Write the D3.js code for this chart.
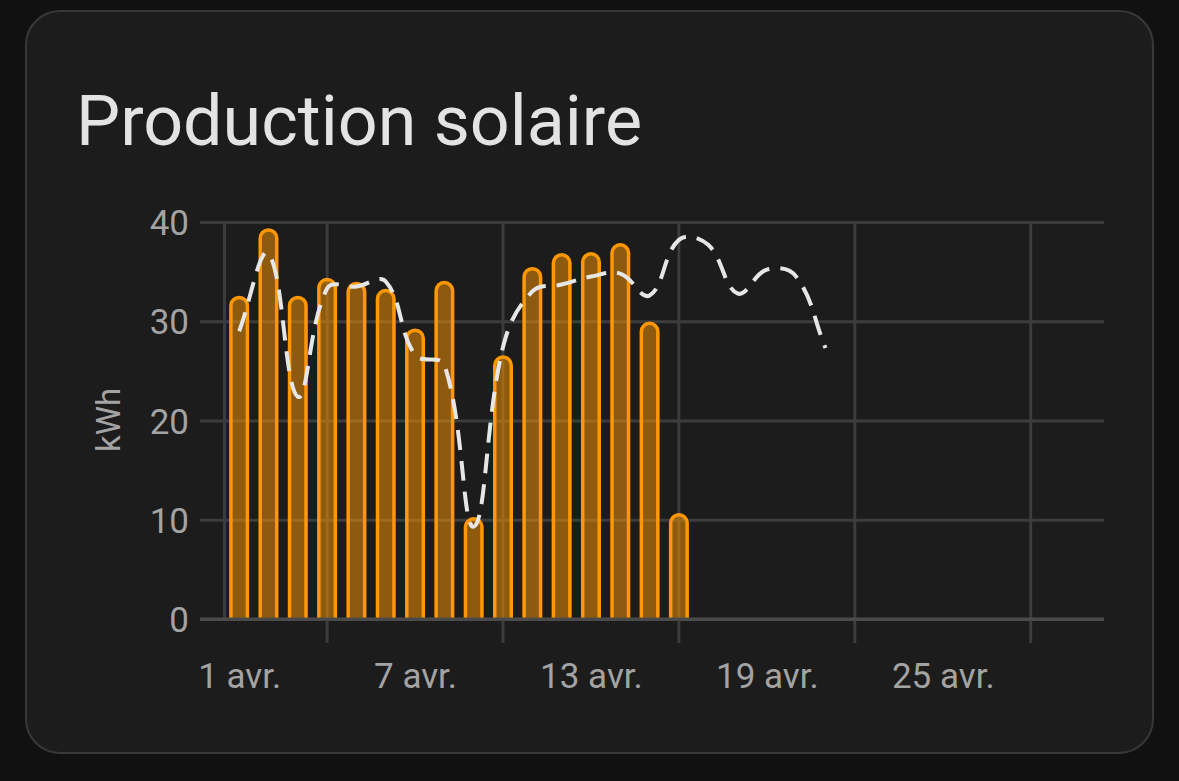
<!DOCTYPE html>
<html><head><meta charset="utf-8">
<script src="https://cdn.jsdelivr.net/npm/d3@7/dist/d3.min.js"></script>
<style>
html,body{margin:0;padding:0;background:#111111;}
svg{display:block;font-family:Roboto,"Noto Sans",sans-serif;}
</style></head><body>
<svg id="c" width="1179" height="781"></svg>
<script>
// ---- data ----
const title = "Production solaire";
const yLabel = "kWh";
const days = d3.range(1, 31);                       // 1..30 avril
const prodDays = d3.range(1, 17);                   // days with production
const production = [32.4, 39.2, 32.4, 34.2, 33.8, 33.1, 29.1, 33.9, 10.1, 26.4, 35.3, 36.7, 36.8, 37.7, 29.8, 10.5];
const forecastDays = d3.range(1, 22);
const forecast = [29.0, 36.8, 22.4, 33.3, 33.5, 34.0, 26.6, 25.6, 9.3, 27.4, 33.0, 33.7, 34.5, 34.8, 32.6, 38.2, 37.7, 32.8, 35.2, 34.5, 27.3];
const yTicks = [0, 10, 20, 30, 40];
const xLabelDays = [1, 7, 13, 19, 25];
const xLabels = ["1 avr.", "7 avr.", "13 avr.", "19 avr.", "25 avr."];
const xGridDays = [4, 10, 16, 22, 28];

// ---- layout ----
const svg = d3.select("#c");
const W = 1179, H = 781;
const plot = {left: 224.5, right: 1104, top: 222, bottom: 619};

svg.append("rect").attr("width", W).attr("height", H).attr("fill", "#111111");
svg.append("rect").attr("x", 26).attr("y", 11).attr("width", 1127).attr("height", 742)
  .attr("rx", 34).attr("fill", "#1c1c1c").attr("stroke", "#383838").attr("stroke-width", 2);

svg.append("text").attr("x", 76).attr("y", 145).text(title)
  .attr("fill", "#e3e3e3").attr("font-size", 70).attr("font-weight", 400);

const x = d3.scaleLinear().domain([0.5, 30.5]).range([plot.left, plot.right]);
const y = d3.scaleLinear().domain([0, 40]).range([plot.bottom, plot.top]);

const gridColor = "#3c3c3c";
// horizontal grid
const yAxis = d3.axisLeft(y).tickValues(yTicks).tickSize(plot.right - 200).tickPadding(11);
const gy = svg.append("g").attr("transform", `translate(${plot.right},0)`).call(yAxis);
gy.select(".domain").remove();
gy.selectAll(".tick line").attr("stroke", d => d === 0 ? "#4a4a4a" : gridColor).attr("stroke-width", 3);
gy.selectAll(".tick text").attr("x", -(plot.right - 189)).attr("fill", "#a3a3a3")
  .attr("font-size", 35).attr("font-family", "Roboto").attr("text-anchor", "end").attr("dy", "0.36em");

// vertical grid
const vg = svg.append("g");
vg.append("line").attr("x1", plot.left).attr("x2", plot.left).attr("y1", plot.top).attr("y2", plot.bottom)
  .attr("stroke", gridColor).attr("stroke-width", 3);
vg.selectAll("line.v").data(xGridDays).join("line").attr("class", "v")
  .attr("x1", d => x(d)).attr("x2", d => x(d)).attr("y1", plot.top).attr("y2", plot.bottom + 24)
  .attr("stroke", gridColor).attr("stroke-width", 3);

// x labels
const xAxis = d3.axisBottom(x).tickValues(xLabelDays).tickFormat((d, i) => xLabels[i]).tickSize(0).tickPadding(0);
const gx = svg.append("g").attr("transform", `translate(0,${plot.bottom})`).call(xAxis);
gx.select(".domain").remove();
gx.selectAll(".tick text").attr("y", 69).attr("dy", 0).attr("fill", "#a3a3a3")
  .attr("font-size", 35).attr("font-family", "Roboto");

// y axis title
svg.append("text").attr("transform", "translate(120,420) rotate(-90)").attr("text-anchor", "middle")
  .attr("fill", "#a3a3a3").attr("font-size", 33).text(yLabel);

// bars
const bw = 16.5, r = bw / 2;
const bars = svg.append("g");
prodDays.forEach((d, i) => {
  const cx = x(d), y0 = y(0), yt = y(production[i]);
  const p = `M${cx - r},${y0} L${cx - r},${yt + r} A${r},${r} 0 0 1 ${cx + r},${yt + r} L${cx + r},${y0}`;
  bars.append("path").attr("d", p + "Z").attr("fill", "rgba(255,152,0,0.5)");
  bars.append("path").attr("d", p).attr("fill", "none").attr("stroke", "#ff9800").attr("stroke-width", 3.5);
});
// redraw zero line above bars
svg.append("line").attr("x1", 200).attr("x2", plot.right).attr("y1", y(0)).attr("y2", y(0))
  .attr("stroke", "#4a4a4a").attr("stroke-width", 3);

// forecast: distance-weighted cubic spline (tension 0.4) through scaled points
function splinePath(pts, t) {
  const p = d3.path();
  const cps = pts.map((cur, i) => {
    const prev = pts[i - 1] || cur, next = pts[i + 1] || cur;
    const d01 = Math.hypot(cur[0] - prev[0], cur[1] - prev[1]);
    const d12 = Math.hypot(next[0] - cur[0], next[1] - cur[1]);
    let s01 = d01 / (d01 + d12), s12 = d12 / (d01 + d12);
    if (isNaN(s01)) s01 = 0; if (isNaN(s12)) s12 = 0;
    const fa = t * s01, fb = t * s12;
    return {
      prev: [cur[0] - fa * (next[0] - prev[0]), cur[1] - fa * (next[1] - prev[1])],
      next: [cur[0] + fb * (next[0] - prev[0]), cur[1] + fb * (next[1] - prev[1])]
    };
  });
  p.moveTo(pts[0][0], pts[0][1]);
  for (let i = 1; i < pts.length; i++) {
    p.bezierCurveTo(cps[i - 1].next[0], cps[i - 1].next[1], cps[i].prev[0], cps[i].prev[1], pts[i][0], pts[i][1]);
  }
  return p.toString();
}
const fpts = forecast.map((v, i) => [x(forecastDays[i]), y(v)]);
svg.append("path").attr("d", splinePath(fpts, 0.4)).attr("fill", "none").attr("stroke", "#e6e6e6")
  .attr("stroke-width", 4).attr("stroke-dasharray", "20,11");
</script></body></html>
